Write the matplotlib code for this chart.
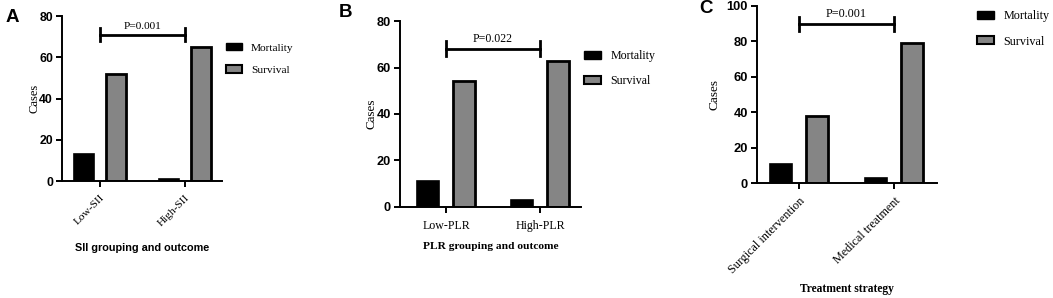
import matplotlib
matplotlib.use("Agg")
from matplotlib import pyplot as plt
from matplotlib.patches import Patch
import numpy as np

# data
groups_a = ["Low-SII", "High-SII"]
mortality_a = [13, 1]
survival_a = [52, 65]

groups_b = ["Low-PLR", "High-PLR"]
mortality_b = [11, 3]
survival_b = [54, 63]

groups_c = ["Surgical intervention", "Medical treatment"]
mortality_c = [11, 3]
survival_c = [38, 79]

p_values = ["P=0.001", "P=0.022", "P=0.001"]

SERIF = "Liberation Serif"
SANS = "Liberation Sans"
GRAY = "#858585"


def draw_panel(ax, groups, mort, surv, ymax, xlim, pval, p_y, rot,
               xlabel, xlabel_font, xlabel_y, ylab_x, leg_xy, fs):
    x = np.arange(len(groups))
    w = 0.24
    ax.bar(x - 0.19, mort, w, color="black", edgecolor="black", linewidth=1.2)
    ax.bar(x + 0.19, surv, w, color=GRAY, edgecolor="black", linewidth=2)
    ax.set_xlim(*xlim)
    ax.set_ylim(0, ymax)
    ax.set_yticks(np.arange(0, ymax + 1, 20))
    ax.set_xticks(x)
    if rot:
        ax.set_xticklabels(groups, rotation=45, ha="right", rotation_mode="anchor",
                           family=SERIF, fontsize=fs)
    else:
        ax.set_xticklabels(groups, family=SERIF, fontsize=fs)
    for lab in ax.get_yticklabels():
        lab.set_fontfamily(SANS)
        lab.set_fontweight("bold")
        lab.set_fontsize(fs + 0.6)
    for s in ["top", "right"]:
        ax.spines[s].set_visible(False)
    for s in ["left", "bottom"]:
        ax.spines[s].set_linewidth(1.4)
    ax.tick_params(axis="both", width=1.4, length=4.5, pad=2)
    ax.tick_params(axis="x", pad=4 if rot else 5)
    ax.set_ylabel("Cases", family=SERIF, fontsize=fs + 0.8)
    ax.yaxis.set_label_coords(ylab_x, 0.5)
    ax.set_xlabel(xlabel, family=xlabel_font, fontweight="bold", fontsize=fs - 0.4)
    ax.xaxis.set_label_coords(0.5, xlabel_y)
    ax.xaxis.label.set_va("center")

    # significance bracket
    ax.plot([x[0], x[1]], [p_y, p_y], color="black", lw=2, clip_on=False)
    d = ymax * 0.04
    for xi in x:
        ax.plot([xi, xi], [p_y - d, p_y + d], color="black", lw=2, clip_on=False)
    ax.text((x[0] + x[1]) / 2, p_y + ymax * 0.02, pval, ha="center", va="bottom",
            family=SERIF, fontsize=fs)

    handles = [Patch(facecolor="black", edgecolor="black", label="Mortality"),
               Patch(facecolor=GRAY, edgecolor="black", linewidth=1.5, label="Survival")]
    ax.legend(handles=handles, loc="upper left", bbox_to_anchor=leg_xy,
              bbox_transform=ax.figure.transFigure, borderpad=0, borderaxespad=0,
              frameon=False, prop={"family": SERIF, "size": fs},
              handlelength=1.4, handleheight=0.6, handletextpad=0.8,
              labelspacing=1.12)


fig = plt.figure(figsize=(10.53, 2.98), dpi=100)

ax_a = fig.add_axes([0.0589, 0.3926, 0.1519, 0.5537])
ax_b = fig.add_axes([0.3799, 0.3054, 0.1719, 0.6241])
ax_c = fig.add_axes([0.7189, 0.3859, 0.1709, 0.5940])

draw_panel(ax_a, groups_a, mortality_a, survival_a, 80, (-0.447, 1.435),
           p_values[0], 71, True, "SII grouping and outcome", SANS, -0.406,
           -0.1375, (226 / 1053, 1 - 43 / 298), 8.2)
draw_panel(ax_b, groups_b, mortality_b, survival_b, 80, (-0.489, 1.436),
           p_values[1], 68, False, "PLR grouping and outcome", SERIF, -0.21,
           -0.127, (584 / 1053, 1 - 50 / 298), 8.6)
draw_panel(ax_c, groups_c, mortality_c, survival_c, 100, (-0.442, 1.453),
           p_values[2], 90, True, "Treatment strategy", SERIF, -0.60,
           -0.205, (977 / 1053, 1 - 10 / 298), 8.7)

fig.text(0.005, 0.97, "A", fontsize=13.5, fontweight="bold", family=SANS, va="top")
fig.text(0.322, 0.985, "B", fontsize=13.5, fontweight="bold", family=SANS, va="top")
fig.text(0.664, 1.0, "C", fontsize=13.5, fontweight="bold", family=SANS, va="top")

plt.savefig("out.png", dpi=100)
